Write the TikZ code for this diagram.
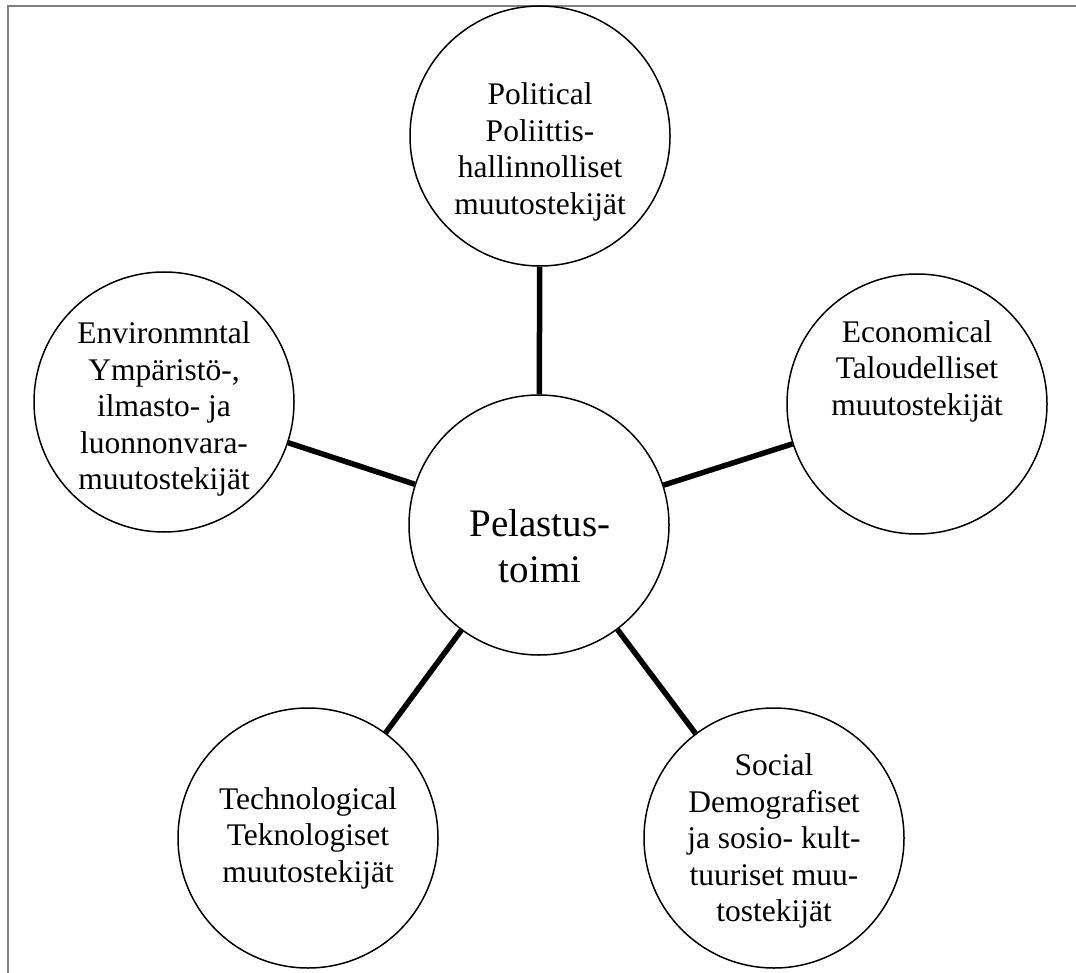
\documentclass[tikz,border=0pt]{standalone}
\usepackage{fontspec}
\setmainfont{Liberation Serif}
\begin{document}
\begin{tikzpicture}[x=1pt,y=-1pt,
  factor/.style={circle,draw=black,line width=1.5pt,minimum size=260pt,inner sep=0pt,fill=white},
  ftext/.style={align=center,font=\fontsize{31.5}{36.5}\selectfont,inner sep=0pt},
  ctext/.style={align=center,font=\fontsize{39}{46}\selectfont,inner sep=0pt},
  link/.style={line width=5.5pt,black},
  frameline/.style={line width=2pt,draw=black!50}]
\useasboundingbox (0,0) rectangle (1076,973);
\coordinate (fa) at (8,973);
\coordinate (fb) at (8,6);
\coordinate (fc) at (1076,6);
\draw[frameline] (fa) -- (fb) -- (fc);

\node[factor] (pol) at (540,136) {};
\node[factor] (env) at (164,402) {};
\node[factor] (eco) at (917,404) {};
\node[factor] (tec) at (308,838) {};
\node[factor] (soc) at (774,838) {};
\node[factor] (cen) at (539,525) {};

\draw[link] (pol) -- (cen);
\draw[link] (env) -- (cen);
\draw[link] (eco) -- (cen);
\draw[link] (tec) -- (cen);
\draw[link] (soc) -- (cen);

\node[ftext] (polT) at (540,152) {Political\\Poliittis-\\hallinnolliset\\muutostekijät};
\node[ftext] (envT) at (164,409) {Environmntal\\Ympäristö-,\\ilmasto- ja\\luonnonvara-\\muutostekijät};
\node[ftext] (ecoT) at (917,371) {Economical\\Taloudelliset\\muutostekijät};
\node[ftext] (tecT) at (308,838) {Technological\\Teknologiset\\muutostekijät};
\node[ftext] (socT) at (774,841) {Social\\Demografiset\\ja sosio- kult-\\tuuriset muu-\\tostekijät};
\node[ctext] (cenT) at (540,546) {Pelastus-\\toimi};
\end{tikzpicture}
\end{document}
